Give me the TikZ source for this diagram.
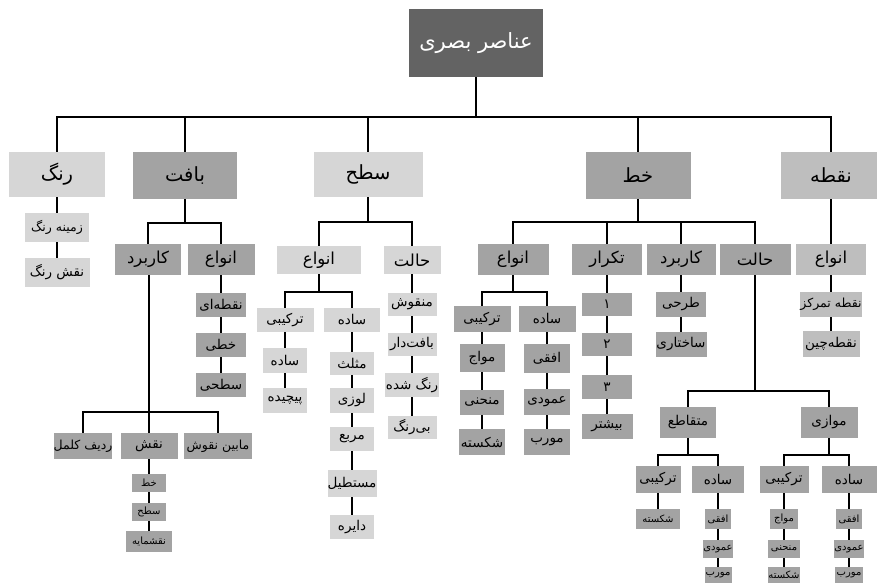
\documentclass[tikz,border=0pt]{standalone}
\usepackage{fontspec}
\newfontfamily\farsi[Script=Arabic]{DejaVu Sans}
\TeXXeTstate=1
\usetikzlibrary{positioning}
\definecolor{darkbox}{HTML}{636363}
\definecolor{midbox}{HTML}{A3A3A3}
\definecolor{lightbox}{HTML}{D6D6D6}
\definecolor{dotbox}{HTML}{BEBEBE}
\newcommand{\fa}[1]{\beginR #1\endR}
\newcommand{\fsz}[1]{\farsi\fontsize{#1}{#1}\selectfont}
\tikzset{
  sz/.style 2 args={minimum width=#1, minimum height=#2},
  box/.style={fill=#1, inner sep=0pt, text=black},
  lvA/.style={font=\fsz{19.5}},
  lvB/.style={font=\fsz{16.5}},
  lvC/.style={font=\fsz{13.5}},
  lvCs/.style={font=\fsz{12.5}},
  lvD/.style={font=\fsz{10}},
  link/.style={line width=1.6pt, black}
}
\begin{document}
\begin{tikzpicture}[x=1pt, y=-1pt]
    \useasboundingbox (0,0) rectangle (877,585);

    % Root
    \node[box=darkbox, text=white, font=\fsz{21}, sz={134}{68}] (root) at (476,43) {\fa{عناصر بصری}};

    % First level
    \node[box=lightbox, lvA, sz={96}{45}] (rang) at (57,174.5) {\fa{رنگ}};
    \node[box=midbox, lvA, sz={104}{47}] (baft) at (185,175.5) {\fa{بافت}};
    \node[box=lightbox, lvA, sz={109}{45}] (sath) at (368,174.5) {\fa{سطح}};
    \node[box=midbox, lvA, sz={105}{47}] (khat) at (638,175.5) {\fa{خط}};
    \node[box=dotbox, lvA, sz={100}{47}] (noqte) at (831,175.5) {\fa{نقطه}};

    \foreach \c in {rang,baft,sath,khat,noqte}
        \draw[link] (root.south) -- ++(0,40) -| (\c);

    % Rang
    \node[box=lightbox, lvCs, sz={64}{29}] (zamine) at (57,227.5) {\fa{زمینه رنگ}};
    \node[box=lightbox, lvC, sz={65}{29}] (naqshrang) at (57,272.5) {\fa{نقش رنگ}};
    \draw[link] (rang) -- (zamine) -- (naqshrang);

    % Baft
    \node[box=midbox, lvB, sz={66}{31}] (bkarbord) at (148,259.5) {\fa{کاربرد}};
    \node[box=midbox, lvB, sz={67}{31}] (banva) at (221,259.5) {\fa{انواع}};
    \foreach \c in {bkarbord,banva}
        \draw[link] (baft.south) -- ++(0,24) -| (\c);

    \node[box=midbox, lvC, sz={50}{24}] (bnoqtei) at (221,305) {\fa{نقطه‌ای}};
    \node[box=midbox, lvC, sz={50}{24}] (bkhati) at (221,345) {\fa{خطی}};
    \node[box=midbox, lvC, sz={50}{24}] (bsathi) at (221,385) {\fa{سطحی}};
    \draw[link] (banva) -- (bnoqtei) -- (bkhati) -- (bsathi);

    \node[box=midbox, lvCs, sz={58}{26}] (bradif) at (83,446) {\fa{ردیف کلمل}};
    \node[box=midbox, lvC, sz={57}{26}] (bnaqsh) at (149,446) {\fa{نقش}};
    \node[box=midbox, lvCs, sz={68}{26}] (bmabein) at (218,446) {\fa{مابین نقوش}};
    \foreach \c in {bradif,bnaqsh,bmabein}
        \draw[link] (bkarbord.south -| bnaqsh) -- ++(0,137) -| (\c);

    \node[box=midbox, lvD, sz={34}{18}] (bnkhat) at (149,483) {\fa{خط}};
    \node[box=midbox, lvD, sz={34}{18}] (bnsath) at (149,512) {\fa{سطح}};
    \node[box=midbox, lvD, sz={46}{21}] (bnmaye) at (149,541.5) {\fa{نقشمایه}};
    \draw[link] (bnaqsh) -- (bnkhat) -- (bnsath) -- (bnmaye);

    % Sath
    \node[box=lightbox, lvB, sz={84}{28}] (sanva) at (319,260) {\fa{انواع}};
    \node[box=lightbox, lvB, sz={57}{28}] (shalat) at (412,260) {\fa{حالت}};
    \foreach \c in {sanva,shalat}
        \draw[link] (sath.south) -- ++(0,25) -| (\c);

    \node[box=lightbox, lvC, sz={49}{23}] (shmanqush) at (412,304.5) {\fa{منقوش}};
    \node[box=lightbox, lvC, sz={49}{23}] (shbaftdar) at (412,344.5) {\fa{بافت‌دار}};
    \node[box=lightbox, lvC, sz={54}{24}] (shrangshode) at (412,385) {\fa{رنگ شده}};
    \node[box=lightbox, lvC, sz={49}{23}] (shbirang) at (412,427.5) {\fa{بی‌رنگ}};
    \draw[link] (shalat) -- (shmanqush) -- (shbaftdar) -- (shrangshode) -- (shbirang);

    \node[box=lightbox, lvC, sz={57}{24}] (starkibi) at (285,320) {\fa{ترکیبی}};
    \node[box=lightbox, lvC, sz={56}{24}] (ssade) at (352,320) {\fa{ساده}};
    \foreach \c in {starkibi,ssade}
        \draw[link] (sanva.south) -- ++(0,18) -| (\c);

    \node[box=lightbox, lvC, sz={44}{25}] (stsade) at (285,360.5) {\fa{ساده}};
    \node[box=lightbox, lvC, sz={44}{25}] (stpichide) at (285,400.5) {\fa{پیچیده}};
    \draw[link] (starkibi) -- (stsade) -- (stpichide);

    \node[box=lightbox, lvC, sz={44}{23}] (ssmosallas) at (352,363.5) {\fa{مثلث}};
    \node[box=lightbox, lvC, sz={44}{25}] (sslozi) at (352,400.5) {\fa{لوزی}};
    \node[box=lightbox, lvC, sz={44}{24}] (ssmorabba) at (352,439) {\fa{مربع}};
    \node[box=lightbox, lvC, sz={49}{27}] (ssmostatil) at (352,483.5) {\fa{مستطیل}};
    \node[box=lightbox, lvC, sz={44}{24}] (ssdayere) at (352,527) {\fa{دایره}};
    \draw[link] (ssade) -- (ssmosallas) -- (sslozi) -- (ssmorabba) -- (ssmostatil) -- (ssdayere);

    % Khat
    \node[box=midbox, lvB, sz={71}{31}] (kanva) at (513,259.5) {\fa{انواع}};
    \node[box=midbox, lvB, sz={70}{31}] (ktekrar) at (607,259.5) {\fa{تکرار}};
    \node[box=midbox, lvB, sz={69}{31}] (kkarbord) at (681,259.5) {\fa{کاربرد}};
    \node[box=midbox, lvB, sz={71}{31}] (khalat) at (755,259.5) {\fa{حالت}};
    \foreach \c in {kanva,ktekrar,kkarbord,khalat}
        \draw[link] (khat.south) -- ++(0,23) -| (\c);

    \node[box=midbox, lvC, sz={57}{26}] (ktarkibi) at (482,319) {\fa{ترکیبی}};
    \node[box=midbox, lvC, sz={57}{26}] (ksade) at (547,319) {\fa{ساده}};
    \foreach \c in {ktarkibi,ksade}
        \draw[link] (kanva.south) -- ++(0,17) -| (\c);

    \node[box=midbox, lvC, sz={45}{28}] (ktmavvaj) at (482,358) {\fa{مواج}};
    \node[box=midbox, lvC, sz={44}{25}] (ktmonhani) at (482,402.5) {\fa{منحنی}};
    \node[box=midbox, lvC, sz={46}{26}] (ktshekaste) at (482,442) {\fa{شکسته}};
    \draw[link] (ktarkibi) -- (ktmavvaj) -- (ktmonhani) -- (ktshekaste);

    \node[box=midbox, lvC, sz={46}{29}] (ksofoghi) at (547,358.5) {\fa{افقی}};
    \node[box=midbox, lvC, sz={46}{26}] (ksamudi) at (547,402) {\fa{عمودی}};
    \node[box=midbox, lvC, sz={46}{26}] (ksmovarrab) at (547,442) {\fa{مورب}};
    \draw[link] (ksade) -- (ksofoghi) -- (ksamudi) -- (ksmovarrab);

    \node[box=midbox, lvC, sz={50}{23}] (kt1) at (607,304.5) {\fa{۱}};
    \node[box=midbox, lvC, sz={50}{23}] (kt2) at (607,344.5) {\fa{۲}};
    \node[box=midbox, lvC, sz={50}{24}] (kt3) at (607,387) {\fa{۳}};
    \node[box=midbox, lvC, sz={51}{25}] (ktbishtar) at (607,426.5) {\fa{بیشتر}};
    \draw[link] (ktekrar) -- (kt1) -- (kt2) -- (kt3) -- (ktbishtar);

    \node[box=midbox, lvC, sz={50}{25}] (kktarhi) at (681,304.5) {\fa{طرحی}};
    \node[box=midbox, lvC, sz={51}{25}] (kksakhtari) at (681,344.5) {\fa{ساختاری}};
    \draw[link] (kkarbord) -- (kktarhi) -- (kksakhtari);

    \node[box=midbox, lvC, sz={56}{31}] (kmotaqate) at (688,422.5) {\fa{متقاطع}};
    \node[box=midbox, lvC, sz={57}{31}] (kmovazi) at (829,422.5) {\fa{موازی}};
    \foreach \c in {kmotaqate,kmovazi}
        \draw[link] (khalat.south) -- ++(0,116) -| (\c);

    % Khat / motaqate
    \node[box=midbox, lvC, sz={45}{27}] (mtarkibi) at (658,479.5) {\fa{ترکیبی}};
    \node[box=midbox, lvC, sz={52}{27}] (msade) at (718,479.5) {\fa{ساده}};
    \foreach \c in {mtarkibi,msade}
        \draw[link] (kmotaqate.south) -- ++(0,17) -| (\c);
    \node[box=midbox, lvD, sz={44}{20}] (mtshekaste) at (658,519) {\fa{شکسته}};
    \draw[link] (mtarkibi) -- (mtshekaste);
    \node[box=midbox, lvD, sz={26}{20}] (msofoghi) at (718,519) {\fa{افقی}};
    \node[box=midbox, lvD, sz={30}{18}] (msamudi) at (718,549) {\fa{عمودی}};
    \node[box=midbox, lvD, sz={27}{16}] (msmovarrab) at (718,575) {\fa{مورب}};
    \draw[link] (msade) -- (msofoghi) -- (msamudi) -- (msmovarrab);

    % Khat / movazi
    \node[box=midbox, lvC, sz={49}{27}] (vtarkibi) at (784,479.5) {\fa{ترکیبی}};
    \node[box=midbox, lvC, sz={55}{27}] (vsade) at (849,479.5) {\fa{ساده}};
    \foreach \c in {vtarkibi,vsade}
        \draw[link] (kmovazi.south) -- ++(0,17) -| (\c);
    \node[box=midbox, lvD, sz={28}{20}] (vtmavvaj) at (784,519) {\fa{مواج}};
    \node[box=midbox, lvD, sz={32}{18}] (vtmonhani) at (784,549) {\fa{منحنی}};
    \node[box=midbox, lvD, sz={32}{16}] (vtshekaste) at (784,575) {\fa{شکسته}};
    \draw[link] (vtarkibi) -- (vtmavvaj) -- (vtmonhani) -- (vtshekaste);
    \node[box=midbox, lvD, sz={26}{20}] (vsofoghi) at (849,519) {\fa{افقی}};
    \node[box=midbox, lvD, sz={30}{18}] (vsamudi) at (849,549) {\fa{عمودی}};
    \node[box=midbox, lvD, sz={28}{16}] (vsmovarrab) at (849,575) {\fa{مورب}};
    \draw[link] (vsade) -- (vsofoghi) -- (vsamudi) -- (vsmovarrab);

    % Noqte
    \node[box=dotbox, lvB, sz={70}{31}] (nanva) at (831,259.5) {\fa{انواع}};
    \node[box=dotbox, lvCs, sz={62}{25}] (ntamarkoz) at (831,304.5) {\fa{نقطه تمرکز}};
    \node[box=dotbox, lvC, sz={57}{26}] (nchin) at (831,344) {\fa{نقطه‌چین}};
    \draw[link] (noqte) -- (nanva) -- (ntamarkoz) -- (nchin);
\end{tikzpicture}
\end{document}
